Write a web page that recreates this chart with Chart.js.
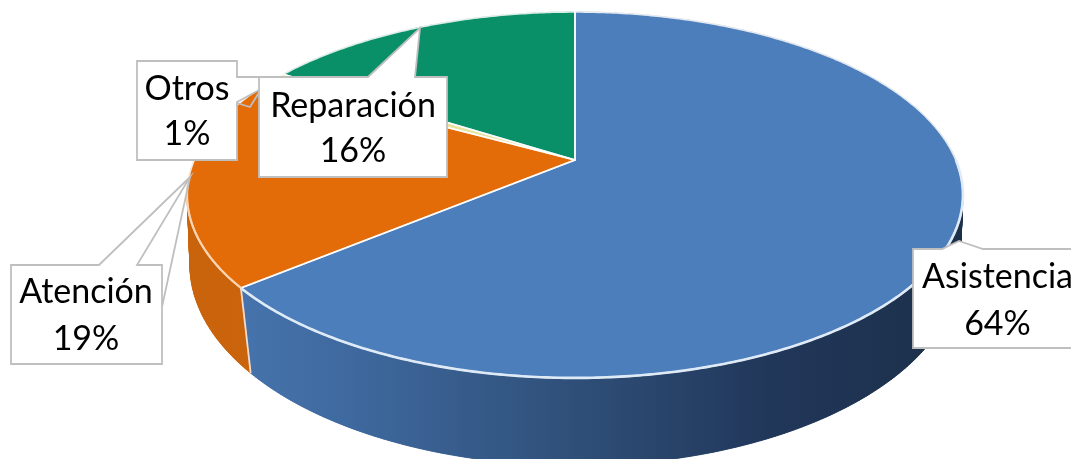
<!DOCTYPE html>
<html><head><meta charset="utf-8">
<style>html,body{margin:0;padding:0;background:#fff}#w{width:1071px;height:459px;position:relative}</style>
<script src="https://cdn.jsdelivr.net/npm/chart.js@4"></script></head>
<body><div id="w"><canvas id="c" width="1071" height="459"></canvas></div>
<script>
const categories = ["Asistencia", "Atención", "Otros", "Reparación"];
const values = [64, 19, 1, 16];
const topColors = ["#4d7ebc", "#e36c09", "#e8e4a0", "#0a9068"];

// Perspective rims of the 3-D disc
const TOP = {cx:575, cy:160, rx:380.8, ry:176.3, p:-0.191};
const BOT = {cx:575, cy:235, rx:380.7, ry:196, p:-0.15};
const project = (r, a) => {
  const u = Math.cos(a), v = Math.sin(a), w = 1 + r.p * v;
  return [r.cx + r.rx * u / w, r.cy + r.ry * v / w];
};
const traceRim = (ctx, r, a0, a1, first) => {
  const n = Math.max(2, Math.ceil(Math.abs(a1 - a0) / 0.01));
  for (let i = 0; i <= n; i++) {
    const p = project(r, a0 + (a1 - a0) * i / n);
    if (i === 0 && first) ctx.moveTo(p[0], p[1]); else ctx.lineTo(p[0], p[1]);
  }
};
const wallStops = [
  [[0,"#4a78b2"],[0.2,"#3f6aa0"],[0.5,"#2f4f78"],[0.75,"#21375a"],[1,"#1c3049"]],
  [[0,"#c9630c"],[1,"#d26a0e"]],
  [[0,"#d0c890"],[1,"#d0c890"]],
  [[0,"#087050"],[1,"#087050"]]
];

const disc3d = {
  id:"disc3d",
  beforeDatasetsDraw(chart){
    const ctx = chart.ctx, arcs = chart.getDatasetMeta(0).data;
    ctx.save();
    ctx.lineJoin = "round";
    arcs.forEach((arc, i) => {
      const g = ctx.createLinearGradient(187,0,963,0);
      wallStops[i].forEach(s => g.addColorStop(s[0], s[1]));
      ctx.fillStyle = g; ctx.strokeStyle = g; ctx.lineWidth = 0.8;
      const n = Math.ceil((arc.endAngle - arc.startAngle) / 0.012);
      for (let k = 0; k < n; k++) {
        const a0 = arc.startAngle + (arc.endAngle - arc.startAngle) * k / n;
        const a1 = arc.startAngle + (arc.endAngle - arc.startAngle) * (k + 1) / n;
        const t0 = project(TOP, a0), t1 = project(TOP, a1), b0 = project(BOT, a0), b1 = project(BOT, a1);
        ctx.beginPath();
        ctx.moveTo(t0[0], t0[1]); ctx.lineTo(t1[0], t1[1]); ctx.lineTo(b1[0], b1[1]); ctx.lineTo(b0[0], b0[1]);
        ctx.closePath(); ctx.fill(); ctx.stroke();
      }
      // smooth ribbon over the quads
      ctx.beginPath();
      traceRim(ctx, TOP, arc.startAngle, arc.endAngle, true);
      traceRim(ctx, BOT, arc.endAngle, arc.startAngle, false);
      ctx.closePath(); ctx.fill();
    });
    // seam between the two visible walls
    const seam = arcs[0].endAngle, s0 = project(TOP, seam), s1 = project(BOT, seam);
    ctx.strokeStyle = "#f6dccb"; ctx.lineWidth = 1.8;
    ctx.beginPath(); ctx.moveTo(s0[0], s0[1]); ctx.lineTo(s1[0], s1[1]); ctx.stroke();
    // top faces
    arcs.forEach((arc, i) => {
      ctx.beginPath();
      ctx.moveTo(TOP.cx, TOP.cy);
      traceRim(ctx, TOP, arc.startAngle, arc.endAngle, false);
      ctx.closePath();
      ctx.fillStyle = topColors[i]; ctx.fill();
    });
    arcs.forEach((arc) => {
      ctx.beginPath();
      ctx.moveTo(TOP.cx, TOP.cy);
      traceRim(ctx, TOP, arc.startAngle, arc.endAngle, false);
      ctx.closePath();
      ctx.strokeStyle = "rgba(255,255,255,0.85)"; ctx.lineWidth = 1.7; ctx.stroke();
    });
    // bright front rim
    const frontRim = [[arcs[0].startAngle + Math.PI / 2, arcs[0].endAngle, "#dfeaf7", 2.6],
                      [arcs[1].startAngle, arcs[1].startAngle + 0.55, "#fbd3ae", 2.2]];
    frontRim.forEach(f => {
      ctx.beginPath(); traceRim(ctx, TOP, f[0], f[1], true);
      ctx.strokeStyle = f[2]; ctx.lineWidth = f[3]; ctx.stroke();
    });
    ctx.restore();
    return false;
  },
  afterDraw(chart){
    const ctx = chart.ctx;
    const boxes = [
      {i:2, poly:[[137,61],[237,61],[237,77],[283,77],[237,102],[237,160],[137,160]], cx:187, y:[100,145]},
      {i:3, poly:[[259,77],[368,77],[420,28],[415,77],[447,77],[447,177],[259,177]], cx:353, y:[117,162]},
      {i:1, poly:[[11,265],[99,265],[190,177],[137,265],[162,265],[162,307],[190,177],[162,307],[162,364],[11,364]], cx:86, y:[303,350]},
      {i:0, poly:[[913,249],[942,249],[959,241],[983,249],[1082,249],[1082,348],[913,348]], cx:997.5, y:[288,335]}
    ];
    ctx.save();
    boxes.forEach(b => {
      ctx.beginPath();
      b.poly.forEach((p, k) => k ? ctx.lineTo(p[0], p[1]) : ctx.moveTo(p[0], p[1]));
      ctx.closePath();
      ctx.fillStyle = "#fff"; ctx.fill();
      ctx.strokeStyle = "#bfbfbf"; ctx.lineWidth = 1.8; ctx.lineJoin = "miter"; ctx.stroke();
      if (b.i === 2) {
        ctx.beginPath(); ctx.moveTo(237,103); ctx.lineTo(250,107); ctx.lineTo(260,91); ctx.stroke();
      }
      ctx.fillStyle = "#000"; ctx.font = '34px Lato'; ctx.textAlign = "center"; ctx.textBaseline = "alphabetic";
      ctx.fillText(categories[b.i], b.cx, b.y[0]);
      ctx.fillText(values[b.i] + "%", b.cx, b.y[1]);
    });
    ctx.restore();
  }
};

new Chart(document.getElementById("c"), {
  type:"pie",
  data:{labels:categories, datasets:[{data:values, backgroundColor:topColors, borderWidth:0}]},
  options:{responsive:false, animation:false, plugins:{legend:{display:false}, tooltip:{enabled:false}}},
  plugins:[disc3d]
});
</script></body></html>
